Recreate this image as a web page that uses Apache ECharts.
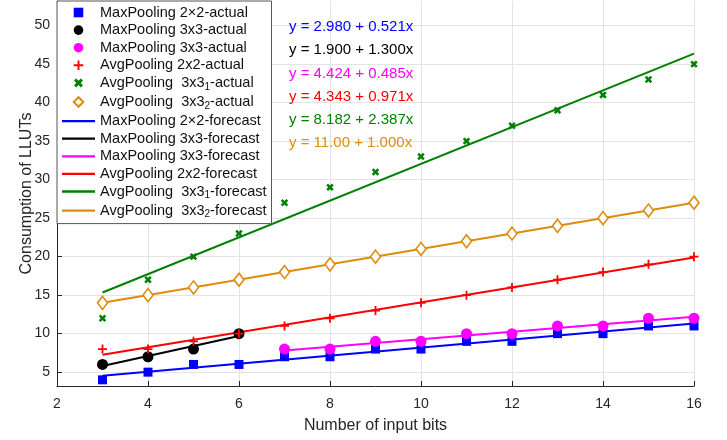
<!DOCTYPE html>
<html>
<head>
<meta charset="utf-8">
<script src="https://cdn.jsdelivr.net/npm/echarts@6/dist/echarts.min.js"></script>
<style>
  html, body { margin: 0; padding: 0; background: #fff; }
  #main { width: 727px; height: 440px; }
</style>
</head>
<body>
<div id="main"></div>
<script>
// x = number of input bits
var bitsAll = [3, 4, 5, 6, 7, 8, 9, 10, 11, 12, 13, 14, 15, 16];
var bitsLow = [3, 4, 5, 6];
var bitsHigh = [7, 8, 9, 10, 11, 12, 13, 14, 15, 16];

// measured LLUTs
var mp22Actual  = [4, 5, 6, 6, 7, 7, 8, 8, 9, 9, 10, 10, 11, 11];
var mp33LowAct  = [6, 7, 8, 10];
var mp33HighAct = [8, 8, 9, 9, 10, 10, 11, 11, 12, 12];
var ap22Actual  = [8, 8, 9, 10, 11, 12, 13, 14, 15, 16, 17, 18, 19, 20];
var ap331Actual = [12, 17, 20, 23, 27, 29, 31, 33, 35, 37, 39, 41, 43, 45];
var ap332Actual = [14, 15, 16, 17, 18, 19, 20, 21, 22, 23, 24, 25, 26, 27];

var mp22Fit  = [[3, 4.54], [16, 11.32]];
var mp33LowFit = [[3, 5.8], [6, 9.7]];
var mp33HighFit = [[7, 7.82], [16, 12.18]];
var ap22Fit  = [[3, 7.26], [16, 19.88]];
var ap331Fit = [[3, 15.34], [16, 46.37]];
var ap332Fit = [[3, 14], [16, 27]];

var equations = [
    'y = 2.980 + 0.521x',
    'y = 1.900 + 1.300x',
    'y = 4.424 + 0.485x',
    'y = 4.343 + 0.971x',
    'y = 8.182 + 2.387x',
    'y = 11.00 + 1.000x'
];
var eqColors = ['#0000ff', '#000000', '#ff00ff', '#ff0000', '#008000', '#de8c0c'];

var yTicks = [5, 10, 15, 20, 25, 30, 35, 40, 45, 50];

var legendText = {
    a1: 'MaxPooling 2×2-actual',
    a2: 'MaxPooling 3x3-actual',
    a3: 'MaxPooling 3x3-actual',
    a4: 'AvgPooling 2x2-actual',
    a5: 'AvgPooling  3x3{s|1}-actual',
    a6: 'AvgPooling  3x3{s|2}-actual',
    f1: 'MaxPooling 2×2-forecast',
    f2: 'MaxPooling 3x3-forecast',
    f3: 'MaxPooling 3x3-forecast',
    f4: 'AvgPooling 2x2-forecast',
    f5: 'AvgPooling  3x3{s|1}-forecast',
    f6: 'AvgPooling  3x3{s|2}-forecast'
};

var plusPath = 'path://M4,0h2v4h4v2h-4v4h-2v-4h-4v-2h4z';
var crossPath = 'path://M3.4,0h3.2v3.4h3.4v3.2h-3.4v3.4h-3.2v-3.4h-3.4v-3.2h3.4z';
var lineIcon = 'path://M0,0h34v2.4h-34z';

function pairs(xs, ys) {
    return xs.map(function (x, i) { return [x, ys[i]]; });
}

// markers only: a line series with an invisible line, so the legend shows the bare marker
function actual(name, xs, ys, color, symbol, size, extra) {
    var s = {
        name: name,
        type: 'line',
        z: 4,
        symbol: symbol,
        symbolSize: size,
        showAllSymbol: true,
        lineStyle: { opacity: 0, width: 0 },
        itemStyle: { color: color },
        data: pairs(xs, ys)
    };
    if (extra) { for (var k in extra) s[k] = extra[k]; }
    return s;
}

function forecast(name, pts, color) {
    return {
        name: name,
        type: 'line',
        z: 3,
        symbol: 'none',
        lineStyle: { color: color, width: 2 },
        itemStyle: { color: color },
        data: pts
    };
}

var legendData = ['a1', 'a2', 'a3', 'a4', 'a5', 'a6'].concat(
    ['f1', 'f2', 'f3', 'f4', 'f5', 'f6'].map(function (n) { return { name: n, icon: lineIcon }; })
);

var myChart = echarts.init(document.getElementById('main'));

myChart.setOption({
    animation: false,
    textStyle: { fontFamily: 'Liberation Sans, Arial, sans-serif' },
    grid: { left: 57, right: 33, top: 1, bottom: 54 },
    legend: {
        orient: 'vertical',
        left: 57,
        top: 1,
        padding: [4, 5, 4, 5],
        itemGap: 2.6,
        itemWidth: 33,
        itemHeight: 12,
        backgroundColor: '#fff',
        borderColor: '#555',
        borderWidth: 1,
        formatter: function (name) { return legendText[name]; },
        textStyle: {
            fontSize: 14.5,
            color: '#111',
            rich: {
                s: { fontSize: 10, padding: [8, 0, 0, 0] }
            }
        },
        data: legendData
    },
    xAxis: {
        type: 'value',
        min: 2,
        max: 16,
        interval: 2,
        name: 'Number of input bits',
        nameLocation: 'middle',
        nameGap: 32,
        nameTextStyle: { fontSize: 16, color: '#262626' },
        axisLine: { lineStyle: { color: '#262626' } },
        axisTick: { inside: true, length: 5, lineStyle: { color: '#262626' } },
        axisLabel: { fontSize: 14, color: '#262626', margin: 11 },
        splitLine: { show: true, lineStyle: { color: '#e3e3e3' } }
    },
    yAxis: {
        type: 'value',
        min: 3.2,
        max: 53.2,
        name: 'Consumption of LLUTs',
        nameLocation: 'middle',
        nameGap: 22,
        nameMoveOverlap: false,
        nameTextStyle: { fontSize: 16, color: '#262626' },
        axisLine: { show: true, lineStyle: { color: '#262626' } },
        axisTick: { show: true, inside: true, length: 5, customValues: yTicks, lineStyle: { color: '#262626' } },
        axisLabel: { fontSize: 14, color: '#262626', margin: 7, customValues: yTicks },
        splitLine: { show: true, lineStyle: { color: '#e3e3e3' } }
    },
    graphic: equations.map(function (t, i) {
        return {
            type: 'text',
            left: 289,
            top: 19.5 + i * 23.2,
            z: 10,
            style: { text: t, fill: eqColors[i], fontSize: 15, fontFamily: 'Liberation Sans, Arial, sans-serif' }
        };
    }),
    series: [
        actual('a1', bitsAll, mp22Actual, '#0000ff', 'rect', 9),
        actual('a2', bitsLow, mp33LowAct, '#000000', 'circle', 11),
        actual('a3', bitsHigh, mp33HighAct, '#ff00ff', 'circle', 11),
        actual('a4', bitsAll, ap22Actual, '#ff0000', plusPath, 9),
        actual('a5', bitsAll, ap331Actual, '#008000', crossPath, 8, { symbolRotate: 45 }),
        actual('a6', bitsAll, ap332Actual, '#de8c0c', 'diamond', [10, 13], {
            itemStyle: { color: '#fff', borderColor: '#de8c0c', borderWidth: 1.6 }
        }),
        forecast('f1', mp22Fit, '#0000ff'),
        forecast('f2', mp33LowFit, '#000000'),
        forecast('f3', mp33HighFit, '#ff00ff'),
        forecast('f4', ap22Fit, '#ff0000'),
        forecast('f5', ap331Fit, '#008000'),
        forecast('f6', ap332Fit, '#de8c0c')
    ]
});
</script>
</body>
</html>
